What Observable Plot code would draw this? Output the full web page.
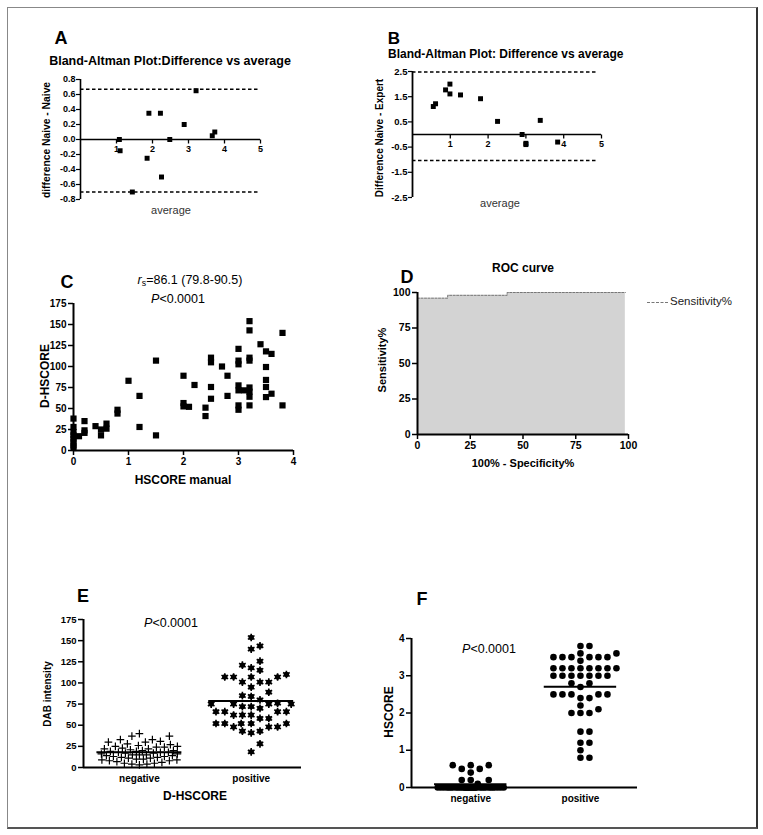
<!DOCTYPE html>
<html><head><meta charset="utf-8">
<script src="https://cdn.jsdelivr.net/npm/d3@7"></script>
<script src="https://cdn.jsdelivr.net/npm/@observablehq/plot@0.6"></script>
<style>
html,body{margin:0;padding:0;background:#fff;}
#fig{position:relative;width:763px;height:835px;background:#fff;font-family:"Liberation Sans",Arial,Helvetica,sans-serif;overflow:hidden;}
#frame{position:absolute;left:7px;top:7px;width:751px;height:822px;box-sizing:border-box;border-left:1px solid #888;border-top:1px solid #888;border-right:2px solid #333;border-bottom:2px solid #555;}
.lbl{position:absolute;white-space:nowrap;line-height:1;color:#000;}
.lbl sub{font-size:70%;vertical-align:-0.3em;line-height:0;}
</style></head>
<body><div id="fig"><div id="frame"></div></div>
<script>
// ---------- DATA ----------
// Panel A: Bland-Altman (Naive - Naive)
const aAverage    = [1.08, 1.10, 1.90, 2.22, 1.85, 2.25, 2.48, 2.88, 3.21, 3.66, 3.73, 1.44];
const aDifference = [0.00, -0.15, 0.35, 0.35, -0.25, -0.50, 0.00, 0.20, 0.65, 0.05, 0.10, -0.70];
const aLimits     = [0.67, -0.70];
const aYTicks     = [-0.8, -0.6, -0.4, -0.2, 0, 0.2, 0.4, 0.6, 0.8];
// Panel B: Bland-Altman (Naive - Expert)
const bAverage    = [0.55, 0.61, 0.875, 0.99, 0.99, 1.27, 1.80, 2.25, 2.90, 3.00, 3.00, 3.38, 3.84];
const bDifference = [1.11, 1.22, 1.77, 2.00, 1.61, 1.57, 1.42, 0.52, 0.00, -0.40, -0.35, 0.56, -0.30];
const bLimits     = [2.48, -1.03];
const bYTicks     = [-2.5, -1.5, -0.5, 0.5, 1.5, 2.5];
const abXTicks    = [1, 2, 3, 4, 5];
// Panel C: D-HSCORE vs HSCORE manual
const cHscore = [0,0,0,0,0,0,0,0, 0.1, 0.2,0.2,0.2, 0.4, 0.5,0.5, 0.6,0.6, 0.8,0.8, 1.0, 1.2,1.2, 1.5,1.5,
  2.0,2.0,2.0, 2.1, 2.2, 2.4,2.4, 2.5,2.5,2.5,2.5, 2.7, 2.8,2.8, 3.0,3.0,3.0,3.0,3.0,3.0,3.0, 3.1,
  3.2,3.2,3.2,3.2,3.2,3.2,3.2,3.2, 3.4, 3.5,3.5,3.5,3.5,3.5, 3.6,3.6, 3.8,3.8];
const cDhscore = [38,28,22,18,14,10,6,3, 17, 35,24,21, 29, 25,18, 32,26, 48.5,44, 83, 65,28, 107,18,
  89,56.5,52.5, 52, 78, 51,41, 110.5,105,75.6,61.6, 100, 89,65, 121,107,102.6,77.5,71.6,53.7,48.5, 71.6,
  154,143,110.5,107,75,70,64,53.7, 126.5, 118,99.4,84,75.6,63.6, 115,67.6, 140,53.7];
const cXTicks = [0, 1, 2, 3, 4];
const cYTicks = [0, 25, 50, 75, 100, 125, 150, 175];
// Panel D: ROC curve
const rocFpr  = [0, 14.3, 42.5, 98.5];
const rocSens = [96, 98, 100, 100];
const dTicks  = [0, 25, 50, 75, 100];
// Panel E: DAB intensity by D-HSCORE group
const groups = ["negative", "positive"];
const eNegative = [40, 37, 37, 33, 33, 31, 30, 30, 28, 27, 26, 25, 25, 24, 24, 23, 22, 22, 21, 20, 20, 19, 19,
  18, 18, 18, 17, 17, 16, 16, 15, 15, 15, 14, 14, 13, 13, 12, 12, 11, 11, 10, 10, 9, 9, 8, 8, 7, 6, 5, 5, 4, 4, 3];
const ePositive = [153.7, 143.8, 140, 125.7, 121, 117.8, 115, 110, 107, 107, 107, 107, 101, 101, 101, 95, 89, 85, 84, 80,
  76, 75, 75, 75, 75, 72, 72, 70, 66, 66, 66, 66, 62, 62, 62, 58, 58, 52, 52, 52, 52, 52, 48, 48, 48, 43, 43, 41, 28, 18.5];
const eYTicks = [0, 25, 50, 75, 100, 125, 150, 175];
// Panel F: HSCORE by group
const fNegative = [0.6, 0.6, 0.6, 0.5, 0.5, 0.4, 0.2, 0.2, 0.2, 0.1,
  0,0,0,0,0,0,0,0,0,0, 0,0,0,0,0,0,0,0,0,0, 0,0,0,0,0,0,0,0,0,0, 0,0,0,0,0,0];
const fPositive = [3.8, 3.8, 3.6, 3.6, 3.5, 3.5, 3.5, 3.5, 3.5, 3.5, 3.4,
  3.2, 3.2, 3.2, 3.2, 3.2, 3.2, 3.2, 3.2, 3.0, 3.0, 3.0, 3.0, 3.0, 3.0, 3.0,
  2.8, 2.8, 2.7, 2.5, 2.5, 2.5, 2.5, 2.5, 2.4, 2.4, 2.2, 2.1, 2.0, 2.0, 2.0,
  1.5, 1.5, 1.2, 1.2, 1.0, 0.8, 0.8];
const fYTicks = [0, 1, 2, 3, 4];

// ---------- HELPERS ----------
const FONT = '"Liberation Sans", Arial, Helvetica, sans-serif';
const fig = document.getElementById("fig");
function place(node, left, top) {
  node.style.position = "absolute"; node.style.left = left + "px"; node.style.top = top + "px";
  fig.appendChild(node);
}
function label(html, x, y, {size = 12, weight = "normal", rotate = false, anchor = "middle", color = "#000"} = {}) {
  const d = document.createElement("div");
  d.className = "lbl"; d.innerHTML = html;
  d.style.left = x + "px"; d.style.top = y + "px";
  d.style.fontSize = size + "px"; d.style.fontWeight = weight; d.style.color = color;
  const tx = anchor === "start" ? "0" : anchor === "end" ? "-100%" : "-50%";
  d.style.transform = `translate(${tx},-50%)` + (rotate ? " rotate(-90deg)" : "");
  fig.appendChild(d);
}
const svgStyle = {background: "transparent", overflow: "visible", fontFamily: FONT, color: "#000"};
const num = d => String(d);
// downward tick symbol for axes drawn through zero
const tickDown = {draw(ctx, size) { const r = Math.sqrt(size / Math.PI); ctx.moveTo(0, 0); ctx.lineTo(0, r); }};
// simple column-scatter layout (offsets in px) derived from the values
function swarm(values, pxPerValue, spacing, diameter, maxHalf) {
  const order = d3.range(values.length).sort((i, j) => values[i] - values[j]);
  const placed = [], off = new Array(values.length);
  for (const i of order) {
    const y = values[i] * pxPerValue;
    const near = placed.filter(p => Math.abs(p.y - y) < diameter);
    let chosen = null;
    for (let k = 0; k * spacing <= maxHalf + 1e-9 && chosen === null; k++) {
      for (const c of (k === 0 ? [0] : [k * spacing, -k * spacing])) {
        if (near.every(p => Math.abs(p.x - c) >= diameter - 1e-9)) { chosen = c; break; }
      }
    }
    if (chosen === null) {
      let best = -1;
      for (let c = -maxHalf; c <= maxHalf; c += 1) {
        const dmin = d3.min(near, p => Math.hypot(p.x - c, p.y - y));
        if (dmin > best + 1e-9 || (Math.abs(dmin - best) < 1e-9 && Math.abs(c) < Math.abs(chosen))) { best = dmin; chosen = c; }
      }
    }
    placed.push({x: chosen, y}); off[i] = chosen;
  }
  return off;
}

// ---------- PANEL A ----------
{
  const data = aAverage.map((v, i) => ({avg: v, diff: aDifference[i]}));
  const p = Plot.plot({
    width: 290, height: 160, marginLeft: 80, marginRight: 30, marginTop: 19, marginBottom: 21,
    style: svgStyle,
    x: {domain: [0, 5], axis: null},
    y: {domain: [-0.8, 0.8]},
    marks: [
      Plot.axisY({ticks: aYTicks, tickFormat: d => d.toFixed(1), tickSize: 4, tickPadding: 1, fontSize: 9, fontWeight: "bold", label: null, strokeWidth: 1.2}),
      Plot.ruleX([0], {strokeWidth: 1.6}),
      Plot.ruleY([0], {x1: 0, x2: 5, strokeWidth: 1.6}),
      Plot.dot(abXTicks, {x: d => d, y: 0, symbol: tickDown, r: 4, stroke: "black", fill: "none", strokeWidth: 1.3}),
      Plot.text(abXTicks, {x: d => d, y: 0, dy: 10, text: num, fontSize: 9, fontWeight: "bold"}),
      Plot.ruleY(aLimits, {x1: 0, x2: 5, strokeDasharray: "3.5,2.5", strokeWidth: 1.5}),
      Plot.dot(data, {x: "avg", y: "diff", symbol: "square", r: 2.8, fill: "black", stroke: "none"})
    ]
  });
  place(p, 0, 60);
  label("A", 61, 38, {size: 18, weight: "bold"});
  label("Bland-Altman Plot:Difference vs average", 170, 61, {size: 12.5, weight: "bold"});
  label("difference Naive - Naive", 46.5, 140, {size: 10.3, weight: "bold", rotate: true});
  label("average", 171, 210, {size: 11, color: "#333"});
}

// ---------- PANEL B ----------
{
  const data = bAverage.map((v, i) => ({avg: v, diff: bDifference[i]}));
  const p = Plot.plot({
    width: 260, height: 150, marginLeft: 52, marginRight: 19, marginTop: 11, marginBottom: 13,
    style: svgStyle,
    x: {domain: [0, 5], axis: null},
    y: {domain: [-2.5, 2.5]},
    marks: [
      Plot.axisY({ticks: bYTicks, tickFormat: d => d.toFixed(1), tickSize: 4, tickPadding: 1, fontSize: 9.5, fontWeight: "bold", label: null, strokeWidth: 1.2}),
      Plot.ruleX([0], {strokeWidth: 1.8}),
      Plot.ruleY([0], {x1: 0, x2: 5, strokeWidth: 1.5}),
      Plot.dot(abXTicks, {x: d => d, y: 0, symbol: tickDown, r: 4, stroke: "black", fill: "none", strokeWidth: 1.3}),
      Plot.text(abXTicks, {x: d => d, y: 0, dy: 10, text: num, fontSize: 9, fontWeight: "bold"}),
      Plot.ruleY(bLimits, {x1: 0, x2: 4.9, strokeDasharray: "3.5,2.5", strokeWidth: 1.5}),
      Plot.dot(data, {x: "avg", y: "diff", symbol: "square", r: 2.8, fill: "black", stroke: "none"})
    ]
  });
  place(p, 360, 60);
  label("B", 394, 37.5, {size: 17, weight: "bold"});
  label("Bland-Altman Plot: Difference vs average", 388, 54, {size: 12, weight: "bold", anchor: "start"});
  label("Difference Naive - Expert", 380, 138, {size: 10, weight: "bold", rotate: true});
  label("average", 500, 203, {size: 11, color: "#333"});
}

// ---------- PANEL C ----------
{
  const data = cHscore.map((v, i) => ({h: v, d: cDhscore[i]}));
  const p = Plot.plot({
    width: 320, height: 190, marginLeft: 73, marginRight: 27, marginTop: 13, marginBottom: 30,
    style: svgStyle,
    x: {domain: [0, 4]},
    y: {domain: [0, 175]},
    marks: [
      Plot.axisY({ticks: cYTicks, tickFormat: num, tickSize: 5, tickPadding: 2, fontSize: 10, fontWeight: "bold", label: null, strokeWidth: 1.5}),
      Plot.axisX({ticks: cXTicks, tickFormat: num, tickSize: 5, tickPadding: 2, fontSize: 10, fontWeight: "bold", label: null, strokeWidth: 1.5}),
      Plot.ruleX([0], {strokeWidth: 2}),
      Plot.ruleY([0], {strokeWidth: 2}),
      Plot.dot(data, {x: "h", y: "d", symbol: "square", r: 3.5, fill: "black", stroke: "none"})
    ]
  });
  place(p, 0, 290);
  label("C", 67, 282, {size: 18, weight: "bold"});
  label("<i>r</i><sub>s</sub>=86.1 (79.8-90.5)", 190, 280, {size: 12.5});
  label("<i>P</i>&lt;0.0001", 178, 299, {size: 12.5});
  label("D-HSCORE", 45, 376, {size: 12, weight: "bold", rotate: true});
  label("HSCORE manual", 183, 480, {size: 12, weight: "bold"});
}

// ---------- PANEL D ----------
{
  const roc = rocFpr.map((v, i) => ({fpr: v, sens: rocSens[i]}));
  const p = Plot.plot({
    width: 290, height: 175, marginLeft: 57, marginRight: 22, marginTop: 12, marginBottom: 21,
    style: svgStyle,
    x: {domain: [0, 100]},
    y: {domain: [0, 100]},
    marks: [
      Plot.areaY(roc, {x: "fpr", y: "sens", curve: "step-after", fill: "#d3d3d3"}),
      Plot.lineY(roc, {x: "fpr", y: "sens", curve: "step-after", stroke: "#777", strokeWidth: 1, strokeDasharray: "2,1.5"}),
      Plot.axisY({ticks: dTicks, tickFormat: num, tickSize: 5, tickPadding: 2, fontSize: 10.5, fontWeight: "bold", label: null, strokeWidth: 1.5}),
      Plot.axisX({ticks: dTicks, tickFormat: num, tickSize: 5, tickPadding: 2, fontSize: 10.5, fontWeight: "bold", label: null, strokeWidth: 1.5}),
      Plot.ruleX([0], {strokeWidth: 2}),
      Plot.ruleY([0], {strokeWidth: 2})
    ]
  });
  place(p, 360, 280);
  label("D", 407, 277, {size: 18, weight: "bold"});
  label("ROC curve", 523, 268, {size: 12, weight: "bold"});
  label("Sensitivity%", 382, 360, {size: 11, weight: "bold", rotate: true});
  label("100% - Specificity%", 523, 463, {size: 11, weight: "bold"});
  const dash = document.createElement("div");
  dash.style.width = "21px"; dash.style.height = "0"; dash.style.borderTop = "1px dashed #777";
  place(dash, 647, 302);
  label("Sensitivity%", 670, 302, {size: 11.5, anchor: "start", color: "#222"});
}

// ---------- PANEL E ----------
{
  const W = 320, H = 180, ml = 83, mr = 19, mt = 14, mb = 18;
  const xDom = [-0.5, 1.45], yDom = [0, 175];
  const xPx = (W - ml - mr) / (xDom[1] - xDom[0]);
  const yPx = (H - mt - mb) / (yDom[1] - yDom[0]);
  const offN = swarm(eNegative, yPx, 7.5, 7, 38);
  const offP = swarm(ePositive, yPx, 8.8, 8.2, 40);
  const neg = eNegative.map((v, i) => ({x: 0 + offN[i] / xPx, v}));
  const pos = ePositive.map((v, i) => ({x: 1 + offP[i] / xPx, v}));
  const means = [{g: 0, m: d3.mean(eNegative)}, {g: 1, m: d3.mean(ePositive)}];
  const p = Plot.plot({
    width: W, height: H, marginLeft: ml, marginRight: mr, marginTop: mt, marginBottom: mb,
    style: svgStyle,
    x: {domain: xDom},
    y: {domain: yDom},
    marks: [
      Plot.dot(neg, {x: "x", y: "v", symbol: "plus", r: 2.6, stroke: "black", strokeWidth: 1.2}),
      Plot.dot(pos, {x: "x", y: "v", r: 2.7, fill: "black", stroke: "none"}),
      Plot.dot(pos, {x: "x", y: "v", symbol: "asterisk", r: 3.6, stroke: "black", strokeWidth: 1.6}),
      Plot.ruleY(means, {y: "m", x1: d => d.g - 0.38, x2: d => d.g + 0.38, strokeWidth: 2}),
      Plot.axisY({ticks: eYTicks, tickFormat: num, tickSize: 5, tickPadding: 2, fontSize: 9.5, fontWeight: "bold", label: null, strokeWidth: 1.5}),
      Plot.axisX({ticks: [0, 1], tickFormat: d => groups[d], tickSize: 0, tickPadding: 7, fontSize: 10, fontWeight: "bold", label: null}),
      Plot.ruleX([xDom[0]], {strokeWidth: 2}),
      Plot.ruleY([0], {strokeWidth: 2})
    ]
  });
  place(p, 0, 605);
  label("E", 83, 596, {size: 18, weight: "bold"});
  label("<i>P</i>&lt;0.0001", 171, 623, {size: 12.5});
  label("DAB intensity", 48, 694, {size: 10, weight: "bold", rotate: true});
  label("D-HSCORE", 195, 796, {size: 12, weight: "bold"});
}

// ---------- PANEL F ----------
{
  const W = 300, H = 180, ml = 51, mr = 23, mt = 13, mb = 18;
  const xDom = [-0.54, 1.52], yDom = [0, 4];
  const xPx = (W - ml - mr) / (xDom[1] - xDom[0]);
  const yPx = (H - mt - mb) / (yDom[1] - yDom[0]);
  const offN = swarm(fNegative, yPx, 9, 7, 33);
  const offP = swarm(fPositive, yPx, 9, 7, 36);
  const neg = fNegative.map((v, i) => ({x: 0 + offN[i] / xPx, v}));
  const pos = fPositive.map((v, i) => ({x: 1 + offP[i] / xPx, v}));
  const means = [{g: 0, m: d3.mean(fNegative)}, {g: 1, m: d3.mean(fPositive)}];
  const p = Plot.plot({
    width: W, height: H, marginLeft: ml, marginRight: mr, marginTop: mt, marginBottom: mb,
    style: svgStyle,
    x: {domain: xDom},
    y: {domain: yDom},
    marks: [
      Plot.dot(neg, {x: "x", y: "v", r: 3.3, fill: "black", stroke: "none"}),
      Plot.dot(pos, {x: "x", y: "v", r: 3.3, fill: "black", stroke: "none"}),
      Plot.ruleY(means, {y: "m", x1: d => d.g - 0.33, x2: d => d.g + 0.33, strokeWidth: 2}),
      Plot.axisY({ticks: fYTicks, tickFormat: num, tickSize: 5, tickPadding: 2, fontSize: 10, fontWeight: "bold", label: null, strokeWidth: 1.5}),
      Plot.axisX({ticks: [0, 1], tickFormat: d => groups[d], tickSize: 0, tickPadding: 7, fontSize: 10, fontWeight: "bold", label: null}),
      Plot.ruleX([xDom[0]], {strokeWidth: 2}),
      Plot.ruleY([0], {strokeWidth: 2})
    ]
  });
  place(p, 360, 625);
  label("F", 422, 599, {size: 18, weight: "bold"});
  label("<i>P</i>&lt;0.0001", 489, 649, {size: 12.5});
  label("HSCORE", 389, 712, {size: 12, weight: "bold", rotate: true});
}
</script></body></html>
